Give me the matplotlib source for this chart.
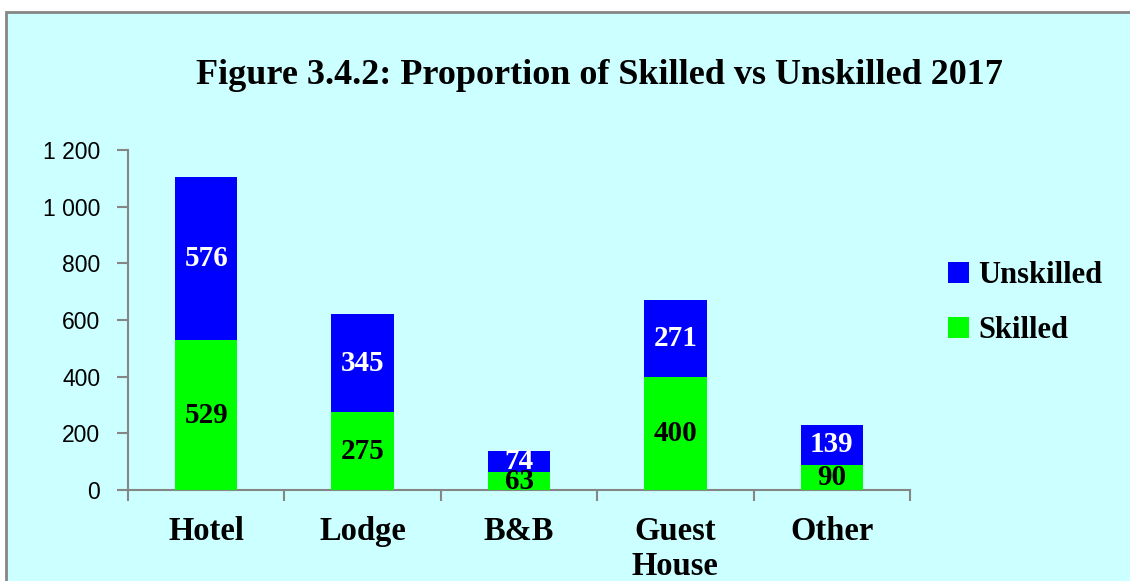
import matplotlib
matplotlib.use("Agg")
import matplotlib.pyplot as plt
from matplotlib.patches import Rectangle
from matplotlib.ticker import FuncFormatter

categories = ["Hotel", "Lodge", "B&B", "Guest\nHouse", "Other"]
skilled = [529, 275, 63, 400, 90]
unskilled = [576, 345, 74, 271, 139]

TITLE = "Figure 3.4.2: Proportion of Skilled vs Unskilled 2017"
BLUE = "#0000FF"
GREEN = "#00FF00"
BG = "#CCFFFF"
AXIS_GRAY = "#868686"
SERIF = ["Liberation Serif", "DejaVu Serif"]


def main():
    fig = plt.figure(figsize=(11.3, 5.81), dpi=100)
    fig.patch.set_facecolor("white")

    # cyan panel with grey border, kept behind the axes
    fig.patches.append(Rectangle((6 / 1130, -0.02), 1.05, 1 - 12 / 581 + 0.02,
                                 transform=fig.transFigure, facecolor=BG,
                                 edgecolor=AXIS_GRAY, linewidth=2, zorder=-10))

    ax = fig.add_axes([128 / 1130, 1 - 490 / 581, (910 - 128) / 1130, (490 - 150) / 581])
    ax.set_facecolor("none")

    x = list(range(len(categories)))
    b1 = ax.bar(x, skilled, width=0.4, color=GREEN, label="Skilled", zorder=3)
    b2 = ax.bar(x, unskilled, width=0.4, bottom=skilled, color=BLUE,
                label="Unskilled", zorder=3)

    for i in x:
        ax.text(i, skilled[i] / 2, str(skilled[i]), ha="center", va="center",
                fontsize=21, fontweight="bold", family=SERIF, color="black", zorder=4)
        ax.text(i, skilled[i] + unskilled[i] / 2, str(unskilled[i]), ha="center",
                va="center", fontsize=21, fontweight="bold", family=SERIF,
                color="white", zorder=4)

    ax.set_xlim(-0.5, len(categories) - 0.5)
    ax.set_ylim(0, 1200)
    ax.set_yticks(range(0, 1201, 200))
    ax.yaxis.set_major_formatter(FuncFormatter(lambda v, p: f"{int(v):,}".replace(",", " ")))

    ax.set_xticks(x)
    ax.set_xticklabels(categories, fontsize=23.5, fontweight="bold", family=SERIF,
                       linespacing=1.15)
    ax.set_xticks([i - 0.5 for i in range(len(categories) + 1)], minor=True)
    ax.tick_params(axis="x", which="major", length=0, pad=19)
    ax.tick_params(axis="x", which="minor", length=8, width=1.5, color=AXIS_GRAY)
    ax.tick_params(axis="y", length=8, width=1.5, color=AXIS_GRAY, labelsize=16.5, pad=12)
    for lab in ax.get_yticklabels():
        lab.set_family(["Liberation Sans", "DejaVu Sans"])

    for side in ["top", "right"]:
        ax.spines[side].set_visible(False)
    for side in ["left", "bottom"]:
        ax.spines[side].set_color(AXIS_GRAY)
        ax.spines[side].set_linewidth(1.5)

    fig.text(599 / 1130, 1 - 75 / 581, TITLE, ha="center", va="center", fontsize=26,
             fontweight="bold", family=SERIF)

    fig.legend([b2, b1], ["Unskilled", "Skilled"], loc="center left",
               bbox_to_anchor=(920 / 1130, 1 - 303 / 581), frameon=False,
               prop={"family": SERIF, "weight": "bold", "size": 22},
               handlelength=0.7, handleheight=0.7, handletextpad=0.3,
               labelspacing=0.85)

    fig.savefig("out.png", dpi=100)


if __name__ == "__main__":
    main()
